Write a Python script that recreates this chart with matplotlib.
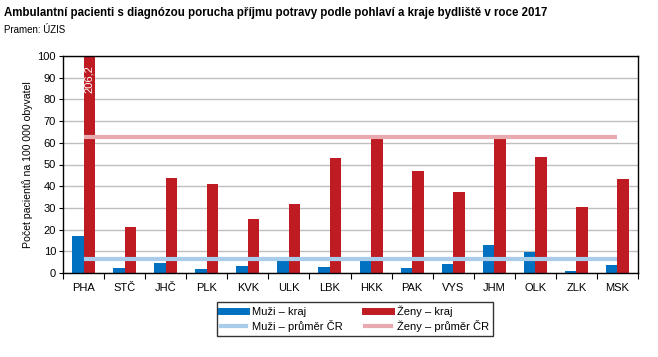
import matplotlib
matplotlib.use("Agg")
import matplotlib.pyplot as plt
import numpy as np
from matplotlib.lines import Line2D

categories = ["PHA", "STČ", "JHČ", "PLK", "KVK", "ULK", "LBK", "HKK", "PAK", "VYS", "JHM", "OLK", "ZLK", "MSK"]
muzi_kraj = [17.0, 2.2, 4.5, 1.7, 3.1, 6.2, 2.6, 6.0, 2.2, 4.0, 12.8, 9.5, 0.8, 3.5]
zeny_kraj = [206.2, 21.1, 43.7, 40.9, 24.8, 31.7, 52.9, 63.5, 46.9, 37.2, 61.8, 53.4, 30.3, 43.2]
muzi_prumer = 6.6
zeny_prumer = 62.5
yticks = list(range(0, 101, 10))

plt.rcParams['font.family'] = ['Liberation Sans', 'DejaVu Sans']

c_m = '#0070C0'
c_z = '#BE1B23'
c_mp = '#A9CCEA'
c_zp = '#E8A9AF'

fig = plt.figure(figsize=(6.58, 3.57), dpi=100)
ax = fig.add_axes([63/658, 1-273/357, (638-63)/658, (273-56)/357])

x = np.arange(len(categories))
w = 0.28
ax.bar(x - w/2, muzi_kraj, w, color=c_m, zorder=2)
ax.bar(x + w/2, zeny_kraj, w, color=c_z, zorder=2)
ax.plot([0, len(categories)-1], [muzi_prumer]*2, color=c_mp, lw=3, zorder=3, solid_capstyle='butt')
ax.plot([0, len(categories)-1], [zeny_prumer]*2, color=c_zp, lw=3, zorder=3, solid_capstyle='butt')

ax.text(x[0] + w/2, 96, "206,2", rotation=90, color='white',
        ha='center', va='top', fontsize=8, zorder=4)

ax.set_xlim(-0.5, len(categories)-0.5)
ax.set_ylim(0, 100)
ax.set_yticks(yticks)
ax.tick_params(axis='y', labelsize=8, length=3, width=0.8, pad=2)
ax.set_xticks(x)
ax.set_xticklabels(categories, fontsize=8)
ax.tick_params(axis='x', which='major', length=0, pad=7)
ax.set_xticks(np.arange(-0.5, len(categories), 1), minor=True)
ax.tick_params(axis='x', which='minor', length=4, width=0.8)
ax.yaxis.grid(True, color='#BFBFBF', lw=1, zorder=0)
ax.set_axisbelow(True)
for s in ax.spines.values():
    s.set_color('black')
    s.set_linewidth(1)
ax.set_ylabel("Počet pacientů na 100 000 obyvatel", fontsize=7.6, labelpad=3)

fig.text(4/658, 1-13/357, "Ambulantní pacienti s diagnózou porucha příjmu potravy podle pohlaví a kraje bydliště v roce 2017",
         fontsize=8.3, fontweight='bold', ha='left', va='center')
fig.text(4/658, 1-30/357, "Pramen: ÚZIS", fontsize=7, ha='left', va='center')

handles = [Line2D([], [], color=c_m, lw=5), Line2D([], [], color=c_mp, lw=3),
           Line2D([], [], color=c_z, lw=5), Line2D([], [], color=c_zp, lw=3)]
labels = ["Muži – kraj", "Muži – průměr ČR", "Ženy – kraj", "Ženy – průměr ČR"]
leg = fig.legend(handles, labels, ncol=2, loc='center', bbox_to_anchor=(355/658, 1-319/357),
                 fontsize=8, frameon=True, fancybox=False, edgecolor='black', handlelength=2.3,
                 columnspacing=2.0, labelspacing=0.25, borderpad=0.35, handletextpad=0.55)
leg.get_frame().set_linewidth(1)

fig.savefig("out.png", dpi=100)
